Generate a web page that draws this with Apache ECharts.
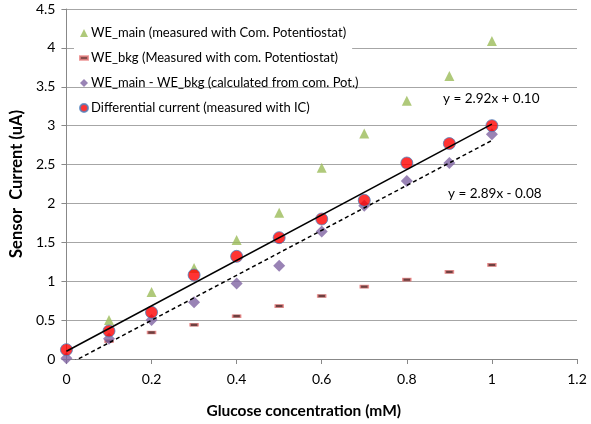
<!DOCTYPE html>
<html>
<head>
<meta charset="utf-8">
<script src="https://cdn.jsdelivr.net/npm/echarts@6/dist/echarts.min.js"></script>
<style>
  html, body { margin: 0; padding: 0; background: #fff; }
  #chart { width: 591px; height: 424px; }
</style>
</head>
<body>
<div id="chart"></div>
<script>
const chart = echarts.init(document.getElementById("chart"));

// glucose concentration (mM)
const conc = [0, 0.1, 0.2, 0.3, 0.4, 0.5, 0.6, 0.7, 0.8, 0.9, 1.0];

// sensor currents (uA); null = hidden under other marks
const weMain = [null, 0.50, 0.86, 1.17, 1.53, 1.88, 2.46, 2.90, 3.32, 3.64, 4.09];
const weBkg = [null, 0.23, 0.34, 0.44, 0.55, 0.68, 0.81, 0.93, 1.02, 1.12, 1.21];
const weDiff = [0.01, 0.26, 0.50, 0.73, 0.97, 1.20, 1.64, 1.97, 2.29, 2.52, 2.89];
const icCurrent = [0.12, 0.36, 0.60, 1.08, 1.32, 1.56, 1.80, 2.04, 2.52, 2.77, 3.00];

// linear trendlines, value at x=0 and x=1
const fitX = [0, 1];
const fitIC = [0.10, 3.02];
const fitDiff = [-0.08, 2.81];

const names = [
  "WE_main (measured with Com. Potentiostat)",
  "WE_bkg (Measured with com. Potentiostat)",
  "WE_main - WE_bkg (calculated from com. Pot.)",
  "Differential current (measured with IC)"
];

const pairs = (xs, ys) => xs.map((x, i) => [x, ys[i]]).filter(p => p[1] != null);

const FONT = "Lato";
const dashIcon = "path://M0,0 L9,0 L9,4 L0,4 Z";

const legendBase = {
  orient: "vertical",
  left: 74,
  itemWidth: 8,
  itemHeight: 8,
  itemGap: 11,
  padding: [5, 6, 5, 5],
  textStyle: { fontFamily: FONT, fontSize: 13, color: "#000", lineHeight: 14, padding: [0, 0, 0, -2] }
};

chart.setOption({
  animation: false,
  grid: { left: 62, right: 14, top: 9, bottom: 64 },
  legend: [
    Object.assign({}, legendBase, {
      top: 21,
      backgroundColor: "#fff",
      data: [
        { name: names[0], icon: "triangle" },
        { name: names[1], icon: dashIcon }
      ]
    }),
    Object.assign({}, legendBase, {
      top: 71,
      data: [
        { name: names[2], icon: "diamond" },
        { name: names[3], icon: "circle" }
      ]
    })
  ],
  xAxis: {
    type: "value",
    min: 0,
    max: 1.2,
    interval: 0.2,
    name: "Glucose concentration (mM)",
    nameLocation: "middle",
    nameGap: 44,
    nameTextStyle: { fontFamily: FONT, fontSize: 15.5, fontWeight: "bold", color: "#000", padding: [0, 36, 0, 0] },
    axisLine: { show: true, onZero: false, lineStyle: { color: "#888", width: 1 } },
    axisTick: { show: true, length: 5, lineStyle: { color: "#888" } },
    axisLabel: { fontFamily: FONT, fontSize: 14, color: "#000", margin: 13 },
    splitLine: { show: false }
  },
  yAxis: {
    type: "value",
    min: 0,
    max: 4.5,
    interval: 0.5,
    name: "Sensor  Current (uA)",
    nameLocation: "middle",
    nameGap: 38,
    nameTextStyle: { fontFamily: FONT, fontSize: 16.5, fontWeight: "bold", color: "#000" },
    axisLine: { show: true, lineStyle: { color: "#888", width: 1 } },
    axisTick: { show: true, length: 5, lineStyle: { color: "#888" } },
    axisLabel: { fontFamily: FONT, fontSize: 14, color: "#000", margin: 11 },
    splitLine: { show: true, lineStyle: { color: "#a6a6a6", width: 1 } }
  },
  series: [
    {
      name: names[0],
      type: "scatter",
      symbol: "triangle",
      symbolSize: 10,
      itemStyle: { color: "#9bbb59" },
      data: pairs(conc, weMain)
    },
    {
      name: names[1],
      type: "scatter",
      symbol: "rect",
      symbolSize: [8, 3],
      itemStyle: { color: "#4a1010", borderColor: "#e88080", borderWidth: 1 },
      data: pairs(conc, weBkg)
    },
    {
      name: names[2],
      type: "scatter",
      symbol: "diamond",
      symbolSize: 12,
      itemStyle: { color: "#8064a2" },
      data: pairs(conc, weDiff)
    },
    {
      name: names[3],
      type: "scatter",
      symbol: "circle",
      symbolSize: 12,
      itemStyle: { color: "#ff0000", borderColor: "#4f81bd", borderWidth: 1 },
      data: pairs(conc, icCurrent)
    },
    {
      name: "fit IC",
      type: "line",
      showSymbol: false,
      symbol: "none",
      clip: true,
      lineStyle: { color: "#000", width: 1.5 },
      data: pairs(fitX, fitIC),
      z: 5
    },
    {
      name: "fit diff",
      type: "line",
      showSymbol: false,
      symbol: "none",
      clip: true,
      lineStyle: { color: "#000", width: 1.5, type: [4, 3] },
      data: pairs(fitX, fitDiff),
      z: 5
    }
  ],
  graphic: [
    {
      type: "text",
      left: 443,
      top: 92,
      style: { text: "y = 2.92x + 0.10", fontFamily: FONT, fontSize: 13.5, fill: "#000" }
    },
    {
      type: "text",
      left: 448,
      top: 187,
      style: { text: "y = 2.89x - 0.08", fontFamily: FONT, fontSize: 13.5, fill: "#000" }
    }
  ]
});
</script>
</body>
</html>
